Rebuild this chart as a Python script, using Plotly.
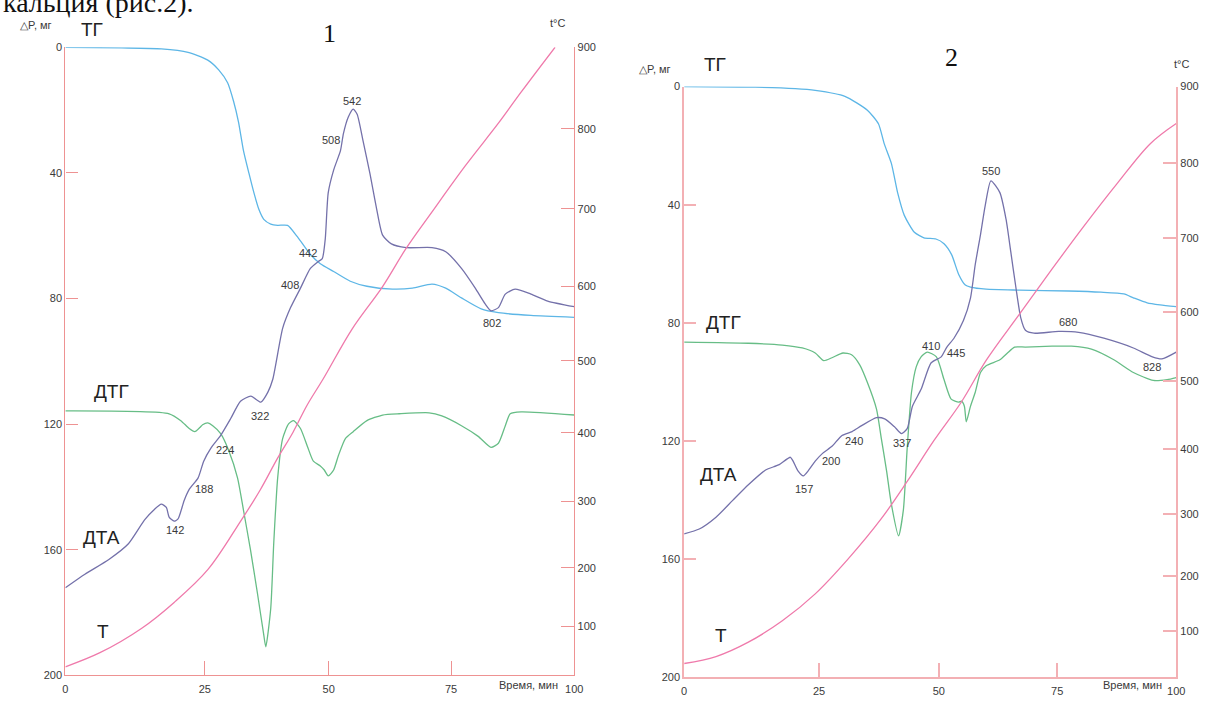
import numpy as np
import plotly.graph_objects as go

# ---------------- axis ticks ----------------
TIME_TICKS = [0, 25, 50, 75, 100]                    # min
MASS_TICKS = [0, 40, 80, 120, 160, 200]              # mg
TEMP_TICKS = [100, 200, 300, 400, 500, 600, 700, 800, 900]  # deg C

# chart-paper calibration of the (non-uniform) time and temperature scales
TIME_GRID = [0.0, 0.274, 0.5175, 0.758, 1.0]
TEMP_GRID_T = [20, 100, 200, 300, 400, 500, 600, 700, 800, 900]
TEMP_GRID_POS = [0.0, 0.078, 0.171, 0.277, 0.386, 0.501, 0.619, 0.743, 0.870, 1.0]

# ---------------- sample 1 ----------------
S1_TG_TIME = [0, 10.1, 17.2, 22.0, 25.6, 27.8, 29.6, 30.8, 31.8, 32.8, 33.9, 34.9, 35.9,
              36.9, 38.3, 39.7, 41.7, 43.7, 46.3, 48.3, 51.0, 54.4, 57.8, 63.0, 67.1,
              71.1, 73.9, 77.1, 81.1, 84.6, 91.2, 100]
S1_TG = [0, 0.2, 0.5, 1.6, 4.1, 7.2, 11.3, 17.2, 23.8, 32.9, 40.1, 46.3, 51.6,
         54.8, 56.3, 56.7, 56.7, 60.4, 66.0, 68.9, 71.4, 74.5, 76.1, 77.0, 76.7,
         75.4, 76.7, 79.8, 83.3, 84.5, 85.4, 86.0]

S1_DTA_TIME = [0, 3.5, 7.8, 11.3, 14.2, 16.0, 17.2, 18.1, 18.6, 19.5, 20.2, 21.3, 22.2,
               23.8, 24.8, 26.2, 28.2, 30.2, 32.2, 34.3, 36.3, 37.7, 38.7, 40.7, 42.3,
               44.3, 46.3, 47.9, 48.7, 49.3, 49.9, 51.0, 52.4, 53.0, 54.0, 55.0, 55.8,
               57.0, 58.4, 59.8, 61.0, 62.8, 65.8, 71.1, 73.9, 77.1, 79.9, 81.9, 83.1,
               84.6, 86.0, 88.0, 91.2, 94.6, 100]
S1_DTA = [172.1, 167.8, 163.1, 158.1, 150.5, 147.1, 145.5, 146.5, 149.6, 150.9, 150.2,
          144.3, 140.8, 137.1, 131.8, 127.7, 123.6, 118.3, 112.7, 111.1, 113.0, 109.9,
          105.8, 89.5, 82.9, 76.7, 70.4, 68.2, 67.3, 61.0, 46.3, 39.1, 32.9, 27.5, 22.2,
          19.7, 21.3, 29.7, 40.1, 51.6, 59.8, 62.6, 63.8, 63.8, 65.1, 70.4, 76.7, 81.7,
          83.9, 82.9, 78.6, 77.0, 78.6, 80.8, 82.6]

S1_DTG_TIME = [0, 18.6, 20.7, 22.2, 23.2, 24.1, 24.6, 25.6, 26.6, 28.2, 29.8, 31.6, 32.8,
               34.2, 35.6, 36.9, 37.3, 38.3, 38.9, 39.7, 40.7, 41.9, 42.9, 44.3, 45.7,
               46.9, 48.3, 49.1, 49.9, 51.0, 52.0, 53.4, 55.0, 57.8, 61.0, 64.4, 70.5,
               73.1, 77.1, 80.5, 83.1, 84.6, 86.0, 87.0, 89.2, 100]
S1_DTG = [115.8, 116.7, 118.9, 121.4, 122.4, 121.1, 120.2, 119.6, 120.5, 123.0, 128.3,
          137.1, 147.4, 159.9, 173.7, 187.2, 190.9, 178.7, 158.1, 137.1, 124.6, 119.9,
          118.9, 121.4, 127.1, 131.8, 133.3, 134.6, 136.5, 134.6, 129.9, 124.6, 122.4,
          118.9, 117.1, 116.7, 116.4, 117.4, 120.5, 123.9, 127.4, 126.1, 120.5, 116.7,
          116.1, 117.1]

S1_T_TIME = [0, 6.2, 13.7, 19.5, 25.6, 32.2, 36.2, 39.6, 42.8, 45.6, 48.9, 54.8, 61.0,
             65.8, 71.1, 77.9, 84.6, 89.2, 96.1]
S1_T = [34, 57, 97, 141, 197, 270, 317, 362, 401, 438, 475, 543, 600, 649, 696, 754,
        807, 845, 900]

S1_PEAK_TEXT = ["142", "188", "224", "322", "408", "442", "508", "542", "802"]
S1_PEAK_TIME = [19.7, 24.8, 29.0, 36.2, 42.2, 45.9, 50.5, 54.8, 83.3]
S1_PEAK_LEVEL = [153.7, 140.8, 128.3, 117.5, 75.6, 65.4, 29.4, 17.2, 87.8]

# ---------------- sample 2 ----------------
S2_TG_TIME = [0, 13.2, 20.6, 24.3, 30.4, 35.1, 37.4, 38.6, 40.1, 41.4, 42.8, 44.9, 46.9,
              49.4, 51.1, 52.7, 54.2, 55.6, 56.7, 60.0, 67.0, 77.4, 84.2, 89.0, 91.0,
              93.9, 96.6, 100]
S2_TG = [0, 0.2, 0.7, 1.3, 3.3, 8.0, 12.6, 19.3, 26.0, 35.9, 43.6, 49.3, 51.2,
         51.6, 53.2, 56.9, 63.6, 67.2, 67.9, 68.6, 68.9, 69.2, 69.6, 70.2, 71.5,
         73.2, 73.9, 74.5]

S2_DTA_TIME = [0, 2.8, 5.9, 9.0, 11.9, 15.1, 17.5, 19.7, 20.2, 21.1, 22.1, 23.0, 24.3,
               25.8, 27.7, 29.8, 31.9, 33.9, 37.0, 38.7, 40.7, 42.2, 43.4, 44.5, 46.3,
               48.4, 50.5, 51.7, 53.2, 55.2, 56.7, 57.7, 58.8, 59.8, 61.0, 62.9, 64.2,
               65.2, 66.3, 67.3, 68.3, 70.1, 75.3, 79.5, 84.8, 91.0, 95.0, 97.0, 100]
S2_DTA = [151.4, 149.8, 145.8, 140.1, 134.8, 129.8, 128.1, 125.5, 126.8, 130.1, 131.8,
          130.1, 126.8, 124.1, 121.8, 118.1, 116.8, 114.8, 112.1, 112.5, 115.1, 117.5,
          115.8, 108.2, 102.5, 93.5, 91.5, 88.2, 85.2, 79.2, 71.5, 60.2, 50.2, 40.3,
          31.9, 35.9, 44.9, 55.9, 68.2, 78.2, 82.5, 83.5, 82.9, 83.2, 85.2, 88.5, 91.5,
          92.2, 89.9]

S2_DTG_TIME = [0, 11.9, 18.2, 21.9, 24.3, 26.0, 27.7, 30.0, 31.8, 33.5, 35.1, 37.0, 38.0,
               39.1, 40.1, 41.6, 42.6, 43.4, 44.3, 45.3, 46.3, 47.6, 49.5, 51.1, 52.6,
               54.2, 54.8, 55.4, 55.8, 56.7, 57.7, 58.8, 60.0, 62.9, 64.5, 66.0, 68.3,
               73.9, 78.0, 82.2, 86.9, 91.0, 95.2, 98.1, 100]
S2_DTG = [86.5, 86.9, 87.5, 88.5, 90.2, 92.8, 91.8, 90.2, 90.8, 94.2, 100.2, 109.2,
          119.1, 130.1, 141.4, 152.1, 143.4, 122.5, 103.5, 94.8, 91.5, 89.9, 91.5, 99.2,
          105.8, 106.8, 106.5, 108.2, 113.5, 108.2, 103.5, 96.8, 94.5, 92.5, 90.2, 88.2,
          88.2, 87.9, 87.9, 88.9, 92.5, 96.8, 99.5, 99.2, 98.5]

S2_T_TIME = [0, 5.9, 11.9, 18.2, 24.3, 31.0, 38.0, 43.4, 49.0, 54.8, 60.0, 67.0, 73.9,
             80.7, 87.7, 94.6, 100]
S2_T = [44, 56, 81, 119, 168, 227, 292, 350, 413, 470, 530, 596, 658, 717, 774, 826,
        852]

S2_PEAK_TEXT = ["157", "200", "240", "337", "410", "445", "550", "680", "828"]
S2_PEAK_TIME = [22.2, 27.5, 32.2, 42.3, 48.4, 53.6, 61.0, 77.2, 94.9]
S2_PEAK_LEVEL = [136.4, 126.6, 120.1, 120.8, 87.9, 90.2, 28.6, 79.7, 95.0]


def time_pos(t):
    return np.interp(t, TIME_TICKS, TIME_GRID)


def temp_pos(v):
    return np.interp(v, TEMP_GRID_T, TEMP_GRID_POS)


W, H = 1209, 701
C_TG = "#5db6e6"
C_DTG = "#67bd86"
C_DTA = "#7471aa"
C_T = "#ef7aab"
TXT = "#3a3a3a"
SANS = "Liberation Sans, Arial, sans-serif"
SERIF = "Liberation Serif, Times New Roman, serif"

fig = go.Figure()


def line(x, y, color, xa, ya, smooth=0.6):
    fig.add_trace(go.Scatter(
        x=time_pos(x), y=y if ya in ("y", "y3") else temp_pos(y),
        xaxis=xa, yaxis=ya, mode="lines",
        line=dict(color=color, width=1.3, shape="spline", smoothing=smooth),
        hoverinfo="skip", showlegend=False))


line(S1_T_TIME, S1_T, C_T, "x", "y2", 1.0)
line(S1_TG_TIME, S1_TG, C_TG, "x", "y")
line(S1_DTG_TIME, S1_DTG, C_DTG, "x", "y")
line(S1_DTA_TIME, S1_DTA, C_DTA, "x", "y")

line(S2_T_TIME, S2_T, C_T, "x2", "y4", 1.0)
line(S2_TG_TIME, S2_TG, C_TG, "x2", "y3")
line(S2_DTG_TIME, S2_DTG, C_DTG, "x2", "y3")
line(S2_DTA_TIME, S2_DTA, C_DTA, "x2", "y3")

tick_font = dict(family=SANS, size=11, color=TXT)


def xaxis(domain, anchor, color, width):
    return dict(domain=domain, anchor=anchor, range=[0, 1], showgrid=False, zeroline=False,
                tickmode="array", tickvals=list(time_pos(TIME_TICKS)),
                ticktext=[str(v) for v in TIME_TICKS], ticks="inside", ticklen=14,
                tickwidth=width, tickcolor=color, showline=True, linecolor=color,
                linewidth=width, tickfont=tick_font, ticklabelstandoff=3, fixedrange=True)


def mass_axis(domain, anchor, color, width):
    return dict(domain=domain, anchor=anchor, range=[200, 0], showgrid=False,
                zeroline=False, tickmode="array", tickvals=MASS_TICKS,
                ticktext=[str(v) for v in MASS_TICKS], ticks="inside", ticklen=12,
                tickwidth=width, tickcolor=color, showline=True, linecolor=color,
                linewidth=width, tickfont=tick_font, fixedrange=True)


def temp_axis(overlay, anchor, color, width):
    return dict(overlaying=overlay, anchor=anchor, side="right", range=[0, 1],
                showgrid=False, zeroline=False, tickmode="array",
                tickvals=list(temp_pos(TEMP_TICKS)),
                ticktext=[str(v) for v in TEMP_TICKS], ticks="inside", ticklen=13,
                tickwidth=width, tickcolor=color, showline=True, linecolor=color,
                linewidth=width, tickfont=tick_font, fixedrange=True)


P1_X = [63 / W, 577 / W]
P1_Y = [1 - 681 / H, 1 - 42 / H]
P2_X = [688 / W, 1185 / W]
P2_Y = [1 - 683 / H, 1 - 82 / H]
AX1 = "#ee9292"
AX2 = "#f3b0b4"

fig.update_layout(
    width=W, height=H, margin=dict(l=0, r=0, t=0, b=0),
    paper_bgcolor="white", plot_bgcolor="rgba(0,0,0,0)", hovermode=False,
    xaxis=xaxis(P1_X, "y", AX1, 1.3),
    yaxis=mass_axis(P1_Y, "x", AX1, 1.3),
    yaxis2=temp_axis("y", "x", AX1, 1.3),
    xaxis2=xaxis(P2_X, "y3", AX2, 1.8),
    yaxis3=mass_axis(P2_Y, "x2", AX2, 1.8),
    yaxis4=temp_axis("y3", "x2", AX2, 1.8),
)

ann = []


def paper_text(text, x, y, size, family=SANS, color=TXT, xanchor="center"):
    ann.append(dict(text=text, xref="paper", yref="paper", x=x / W, y=1 - y / H,
                    xanchor=xanchor, yanchor="middle", showarrow=False,
                    font=dict(family=family, size=size, color=color)))


def data_text(text, t, level, xa, ya, size, family=SANS, color=TXT):
    ann.append(dict(text=text, xref=xa, yref=ya, x=float(time_pos(t)), y=level,
                    xanchor="center", yanchor="middle", showarrow=False,
                    font=dict(family=family, size=size, color=color)))


# caption line running above the figure (partly outside the page)
paper_text("кальция (рис.2).", -2, -4, 28, SERIF, "#111", "left")

# sample 1 headings
paper_text("△P, мг", 33, 19, 11)
paper_text("ТГ", 90, 24, 19, SANS, "#222")
paper_text("1", 330, 28, 26, SERIF, "#111")
paper_text("t°C", 560, 17, 11)
paper_text("Время, мин", 531, 691, 11)
data_text("ДТГ", 8.2, 109.5, "x", "y", 19, SANS, "#222")
data_text("ДТА", 6.4, 156.0, "x", "y", 19, SANS, "#222")
data_text("Т", 6.7, 186.0, "x", "y", 19, SANS, "#222")
for s, t, lv in zip(S1_PEAK_TEXT, S1_PEAK_TIME, S1_PEAK_LEVEL):
    data_text(s, t, lv, "x", "y", 11)

# sample 2 headings
paper_text("△P, мг", 659, 64, 11)
paper_text("ТГ", 719, 60, 19, SANS, "#222")
paper_text("2", 958, 52, 26, SERIF, "#111")
paper_text("t°C", 1190, 59, 11)
paper_text("Время, мин", 1141, 691, 11)
data_text("ДТГ", 7.2, 80.0, "x2", "y3", 19, SANS, "#222")
data_text("ДТА", 6.3, 131.5, "x2", "y3", 19, SANS, "#222")
data_text("Т", 6.8, 186.0, "x2", "y3", 19, SANS, "#222")
for s, t, lv in zip(S2_PEAK_TEXT, S2_PEAK_TIME, S2_PEAK_LEVEL):
    data_text(s, t, lv, "x2", "y3", 11)

fig.update_layout(annotations=ann)
fig.write_html("out.html")
